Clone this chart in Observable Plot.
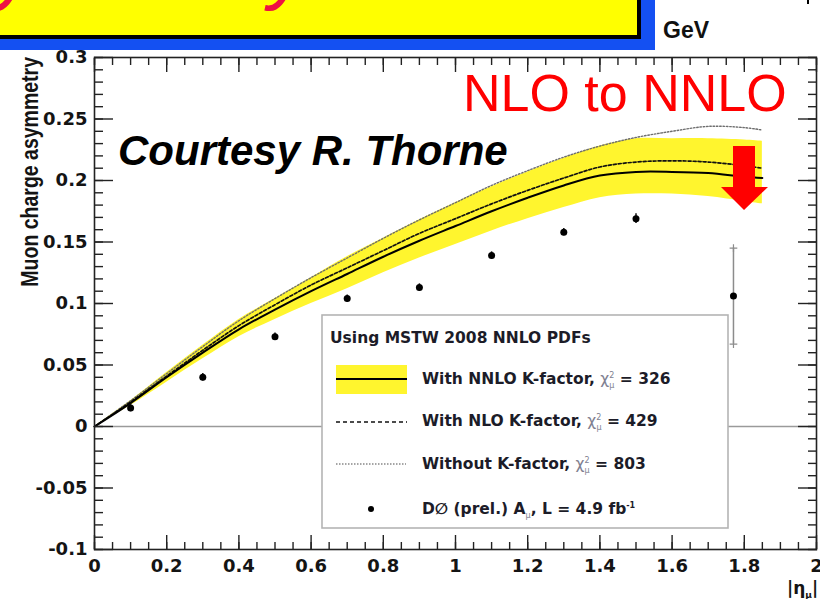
<!DOCTYPE html>
<html>
<head>
<meta charset="utf-8">
<script src="https://cdn.jsdelivr.net/npm/d3@7"></script>
<script src="https://cdn.jsdelivr.net/npm/@observablehq/plot@0.6"></script>
<style>
  html, body { margin: 0; padding: 0; background: #fff; }
  #slide { position: relative; width: 820px; height: 599px; overflow: hidden; background: #fff; }
  #slide > svg { position: absolute; left: 0; top: 0; }
</style>
</head>
<body>
<div id="slide"></div>
<script>
// Theory predictions tabulated in |eta_mu|
const etaGrid   = [0, 0.1, 0.2, 0.3, 0.4, 0.5, 0.6, 0.7, 0.8, 0.9, 1.0, 1.1, 1.2, 1.3, 1.4, 1.5, 1.6, 1.7, 1.8, 1.85];
const asymNNLO  = [0, 0.019, 0.040, 0.060, 0.079, 0.095, 0.110, 0.124, 0.138, 0.151, 0.163, 0.175, 0.186, 0.196, 0.204, 0.207, 0.207, 0.206, 0.203, 0.202];
const bandLow   = [0, 0.017, 0.036, 0.055, 0.073, 0.087, 0.100, 0.112, 0.125, 0.137, 0.148, 0.159, 0.169, 0.178, 0.186, 0.189, 0.189, 0.187, 0.183, 0.181];
const bandHigh  = [0, 0.021, 0.044, 0.066, 0.087, 0.104, 0.121, 0.138, 0.153, 0.168, 0.182, 0.195, 0.207, 0.218, 0.228, 0.234, 0.234, 0.234, 0.233, 0.232];
const asymNLO   = [0, 0.020, 0.041, 0.062, 0.082, 0.099, 0.115, 0.129, 0.143, 0.157, 0.169, 0.181, 0.192, 0.202, 0.211, 0.215, 0.216, 0.215, 0.212, 0.210];
const asymNoK   = [0, 0.021, 0.043, 0.065, 0.086, 0.104, 0.121, 0.137, 0.153, 0.168, 0.182, 0.196, 0.208, 0.219, 0.228, 0.235, 0.240, 0.244, 0.243, 0.241];

// DØ preliminary measurement, L = 4.9 fb^-1
const d0Eta  = [0.1, 0.3, 0.5, 0.7, 0.9, 1.1, 1.3, 1.5, 1.77];
const d0Asym = [0.015, 0.040, 0.073, 0.104, 0.113, 0.139, 0.158, 0.169, 0.106];
const d0Err  = [0.003, 0.003, 0.003, 0.003, 0.003, 0.003, 0.003, 0.004, 0.039];

// Axis ticks and labels
const xTicks = [0, 0.2, 0.4, 0.6, 0.8, 1, 1.2, 1.4, 1.6, 1.8, 2];
const xTickLabels = ["0", "0.2", "0.4", "0.6", "0.8", "1", "1.2", "1.4", "1.6", "1.8", "2"];
const yTicks = [-0.1, -0.05, 0, 0.05, 0.1, 0.15, 0.2, 0.25, 0.3];
const yTickLabels = ["-0.1", "-0.05", "0", "0.05", "0.1", "0.15", "0.2", "0.25", "0.3"];
const xMinorTicks = d3.range(0, 2.0001, 0.05);
const yMinorTicks = d3.range(-0.1, 0.3001, 0.01);
const yTitle = "Muon charge asymmetry";

// Legend text
const legendTitle = "Using MSTW 2008 NNLO PDFs";
const legendLabels = ["With NNLO K-factor,", "With NLO K-factor,", "Without K-factor,"];
const chi2Values = [326, 429, 803];
const dataLabel = "D\u2205 (prel.) A";
const lumiLabel = ",  L = 4.9 fb";

const curves = etaGrid.map((eta, i) => ({
  eta, nnlo: asymNNLO[i], lo: bandLow[i], hi: bandHigh[i], nlo: asymNLO[i], noK: asymNoK[i]
}));
const d0 = d0Eta.map((eta, i) => ({eta, asym: d0Asym[i], err: d0Err[i]}));

const tickFont = {fontFamily: "DejaVu Sans", fontWeight: "bold", fontSize: 18, fill: "#141414"};
const tickStroke = {stroke: "#222", strokeWidth: 1.4};
const xFmt = d => xTickLabels[xTicks.indexOf(d)];
const yFmt = d => yTickLabels[yTicks.indexOf(d)];
const blank = () => "";
const smooth = "catmull-rom";

const chart = Plot.plot({
  width: 820,
  height: 599,
  marginLeft: 94,
  marginRight: 4,
  marginTop: 57,
  marginBottom: 50,
  x: {domain: [0, 2]},
  y: {domain: [-0.1, 0.3]},
  style: {background: "transparent", overflow: "visible"},
  marks: [
    Plot.ruleY([0], {stroke: "#9a9a9a", strokeWidth: 1.5}),
    Plot.areaY(curves, {x: "eta", y1: "lo", y2: "hi", fill: "#fff52e", curve: smooth}),
    Plot.line(curves, {x: "eta", y: "noK", stroke: "#6e6e6e", strokeWidth: 1.4, strokeDasharray: "1.5,1.8", curve: smooth}),
    Plot.line(curves, {x: "eta", y: "nlo", stroke: "#111", strokeWidth: 1.7, strokeDasharray: "3,2", curve: smooth}),
    Plot.line(curves, {x: "eta", y: "nnlo", stroke: "#000", strokeWidth: 2, curve: smooth}),
    Plot.ruleX(d0, {x: "eta", y1: d => d.asym - d.err, y2: d => d.asym + d.err,
      stroke: d => d.err > 0.01 ? "#8c8c8c" : "#111", strokeWidth: 1.5}),
    Plot.dot(d0.filter(d => d.err > 0.01), {x: "eta", y: d => d.asym + d.err, symbol: "plus", r: 2.6, stroke: "#8c8c8c", strokeWidth: 1.2}),
    Plot.dot(d0.filter(d => d.err > 0.01), {x: "eta", y: d => d.asym - d.err, symbol: "plus", r: 2.6, stroke: "#8c8c8c", strokeWidth: 1.2}),
    Plot.dot(d0, {x: "eta", y: "asym", r: 3.5, fill: "#000"}),

    // inward ticks on all four sides of the frame
    Plot.axisX(xMinorTicks, {anchor: "bottom", tickSize: 7, dy: -7, tickFormat: blank, label: null, ...tickStroke}),
    Plot.axisX(xTicks, {anchor: "bottom", tickSize: 14, dy: -14, tickFormat: blank, label: null, ...tickStroke}),
    Plot.axisX(xMinorTicks, {anchor: "top", tickSize: 7, dy: 7, tickFormat: blank, label: null, ...tickStroke}),
    Plot.axisX(xTicks, {anchor: "top", tickSize: 14, dy: 14, tickFormat: blank, label: null, ...tickStroke}),
    Plot.axisY(yMinorTicks, {anchor: "left", tickSize: 9, dx: 9, tickFormat: blank, label: null, ...tickStroke}),
    Plot.axisY(yTicks, {anchor: "left", tickSize: 19, dx: 19, tickFormat: blank, label: null, ...tickStroke}),
    Plot.axisY(yMinorTicks, {anchor: "right", tickSize: 9, dx: -9, tickFormat: blank, label: null, ...tickStroke}),
    Plot.axisY(yTicks, {anchor: "right", tickSize: 19, dx: -19, tickFormat: blank, label: null, ...tickStroke}),

    // tick labels
    Plot.axisX(xTicks, {anchor: "bottom", tickSize: 0, tickPadding: 10, tickFormat: xFmt, label: null, ...tickFont}),
    Plot.axisY(yTicks, {anchor: "left", tickSize: 0, tickPadding: 7, tickFormat: yFmt, label: null, ...tickFont}),

    Plot.frame({stroke: "#222", strokeWidth: 1.6})
  ]
});
document.getElementById("slide").appendChild(chart);

// Overlay: legend, axis titles, slide annotations and header
const ov = d3.select("#slide").append("svg").attr("width", 820).attr("height", 599);
const legendFont = g => g.attr("font-family", "DejaVu Sans").attr("font-weight", "bold").attr("font-size", 15.5).attr("fill", "#1c1c28");

const lg = ov.append("g");
lg.append("rect").attr("x", 322).attr("y", 315).attr("width", 406).attr("height", 213)
  .attr("fill", "#fff").attr("stroke", "#b4b4b4").attr("stroke-width", 1.6);
lg.append("text").attr("x", 330).attr("y", 343).call(legendFont).text(legendTitle);

const rowY = [378, 420, 463, 508];
// swatches
lg.append("rect").attr("x", 336).attr("y", 365).attr("width", 71).attr("height", 29).attr("fill", "#fff52e");
lg.append("line").attr("x1", 336).attr("x2", 407).attr("y1", rowY[0] + 1).attr("y2", rowY[0] + 1).attr("stroke", "#000").attr("stroke-width", 2);
lg.append("line").attr("x1", 336).attr("x2", 407).attr("y1", rowY[1] + 2).attr("y2", rowY[1] + 2).attr("stroke", "#111").attr("stroke-width", 1.5).attr("stroke-dasharray", "4,3");
lg.append("line").attr("x1", 336).attr("x2", 406).attr("y1", rowY[2] + 1).attr("y2", rowY[2] + 1).attr("stroke", "#888").attr("stroke-width", 1.3).attr("stroke-dasharray", "1.5,1.5");
lg.append("circle").attr("cx", 371).attr("cy", rowY[3] + 1).attr("r", 3).attr("fill", "#000");

legendLabels.forEach((label, i) => {
  const t = lg.append("text").attr("x", 422).attr("y", rowY[i] + 6).call(legendFont);
  t.append("tspan").text(label + " ");
  t.append("tspan").attr("font-weight", "normal").attr("fill", "#808090").text("\u03c7");
  t.append("tspan").attr("font-size", 8).attr("font-weight", "normal").attr("fill", "#808090").attr("dy", -6).text("2");
  t.append("tspan").attr("font-size", 8).attr("font-weight", "normal").attr("fill", "#808090").attr("dx", -5).attr("dy", 10).text("\u03bc");
  t.append("tspan").attr("dy", -4).text(" =  " + chi2Values[i]);
});
{
  const t = lg.append("text").attr("x", 422).attr("y", rowY[3] + 6).call(legendFont);
  t.append("tspan").text(dataLabel);
  t.append("tspan").attr("font-size", 8).attr("font-weight", "normal").attr("fill", "#808090").attr("dy", 4).text("\u03bc");
  t.append("tspan").attr("dy", -4).text(lumiLabel);
  t.append("tspan").attr("font-size", 8).attr("dy", -6).text("-1");
}

// y-axis title, widened like the rest of the axis lettering
ov.append("text").attr("transform", "translate(29,57) scale(1.25,1) rotate(-90)")
  .attr("text-anchor", "end").attr("dy", "0.35em")
  .attr("font-family", "Liberation Sans").attr("font-weight", "bold").attr("font-size", 19.5)
  .attr("fill", "#141414").text(yTitle);

// x-axis title |eta_mu|
{
  const t = ov.append("text").attr("x", 787).attr("y", 594)
    .attr("font-family", "DejaVu Sans").attr("font-weight", "bold").attr("font-size", 17).attr("fill", "#141414");
  t.append("tspan").text("|\u03b7");
  t.append("tspan").attr("font-size", 9).attr("dy", 4).text("\u03bc");
  t.append("tspan").attr("dy", -4).text("|");
}

// slide annotations
ov.append("text").attr("x", 118).attr("y", 165)
  .attr("font-family", "Liberation Sans").attr("font-weight", "bold").attr("font-style", "italic")
  .attr("font-size", 42).attr("fill", "#000").text("Courtesy R. Thorne");
ov.append("text").attr("x", 463).attr("y", 111)
  .attr("font-family", "Liberation Sans").attr("font-size", 52).attr("fill", "#ff0000").text("NLO to NNLO");
ov.append("polygon")
  .attr("points", "733,146 755,146 755,187 768,187 744,210 721,187 733,187")
  .attr("fill", "#ff0000");

// slide header: blue band, yellow title box, units
ov.append("rect").attr("x", 0).attr("y", 0).attr("width", 655).attr("height", 50).attr("fill", "#1450f2");
ov.append("rect").attr("x", -1).attr("y", -1).attr("width", 642).attr("height", 40).attr("fill", "#000");
ov.append("rect").attr("x", -3).attr("y", -3).attr("width", 641).attr("height", 39)
  .attr("fill", "#ffff00").attr("stroke", "#000").attr("stroke-width", 2);
ov.append("clipPath").attr("id", "titleClip")
  .append("rect").attr("x", -2).attr("y", -2).attr("width", 639).attr("height", 37);
ov.append("text").attr("clip-path", "url(#titleClip)").attr("x", -100).attr("y", -6)
  .attr("font-family", "Liberation Sans").attr("font-style", "italic")
  .attr("font-size", 82).attr("fill", "#ee1144").text("Asymmetry");
ov.append("text").attr("x", 663).attr("y", 38)
  .attr("font-family", "Liberation Sans").attr("font-weight", "bold").attr("font-size", 23).attr("fill", "#111").text("GeV");
ov.append("line").attr("x1", 808).attr("x2", 808).attr("y1", 0).attr("y2", 4).attr("stroke", "#000").attr("stroke-width", 2);
</script>
</body>
</html>
